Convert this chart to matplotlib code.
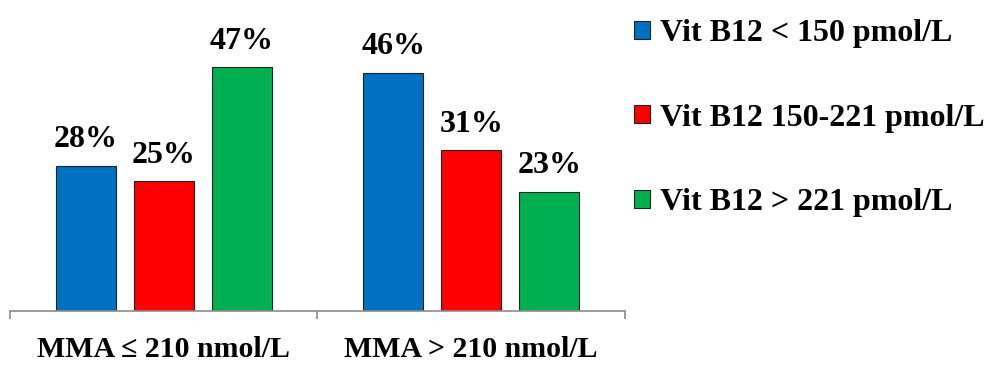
import matplotlib
matplotlib.use("Agg")
import matplotlib.pyplot as plt
import numpy as np

categories = ["MMA ≤ 210 nmol/L", "MMA > 210 nmol/L"]
series = ["Vit B12 < 150 pmol/L", "Vit B12 150-221 pmol/L", "Vit B12 > 221 pmol/L"]
values = [
    [28, 46],
    [25, 31],
    [47, 23],
]
colors = ["#0070C0", "#FF0000", "#00B050"]

plt.rcParams["font.family"] = ["Liberation Serif", "DejaVu Serif"]
plt.rcParams["font.weight"] = "bold"

fig = plt.figure(figsize=(9.87, 3.65), dpi=100)
ax = fig.add_axes([10 / 987, 54 / 365, 615 / 987, 311 / 365])

x = np.arange(len(categories))
width = 0.195
step = 0.254
for i, (name, vals, col) in enumerate(zip(series, values, colors)):
    b = ax.bar(x + (i - 1) * step, vals, width, color=col, edgecolor="#222222",
               linewidth=0.8, label=name)
    ax.bar_label(b, labels=[f"{v}%" for v in vals], padding=8.5,
                 fontsize=23, fontweight="bold")

ax.set_xlim(-0.5, 1.5)
ax.set_ylim(0, 60)
ax.set_yticks([])
for s in ["top", "right", "left"]:
    ax.spines[s].set_visible(False)
ax.spines["bottom"].set_color("#8c8c8c")
ax.spines["bottom"].set_linewidth(1.2)

# category names under the groups, separators as minor ticks
ax.set_xticks(x)
ax.set_xticklabels(categories, fontsize=21.5, fontweight="bold")
ax.tick_params(axis="x", which="major", length=0, pad=18)
ax.set_xticks([-0.5, 0.5, 1.5], minor=True)
ax.tick_params(axis="x", which="minor", length=6, width=1.2, color="#8c8c8c")

ax.legend(loc="upper left", bbox_to_anchor=(634 / 987, 1 - 19 / 365),
          bbox_transform=fig.transFigure, frameon=False,
          handlelength=0.5, handleheight=0.5, handletextpad=0.3,
          labelspacing=1.74, borderaxespad=0, borderpad=0,
          prop={"weight": "bold", "size": 23})

fig.savefig("out.png", dpi=100)
